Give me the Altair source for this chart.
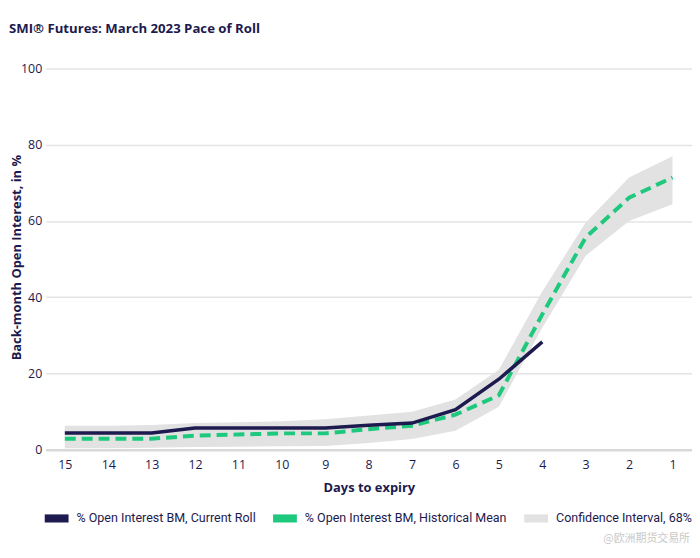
import altair as alt
import pandas as pd

# ---- data ----
days = [15, 14, 13, 12, 11, 10, 9, 8, 7, 6, 5, 4, 3, 2, 1]
current_roll = [4.4, 4.4, 4.4, 5.7, 5.7, 5.7, 5.7, 6.4, 7.0, 10.5, 18.5, 28.3]  # days 15..4
hist_mean = [2.9, 2.9, 2.9, 3.7, 4.0, 4.3, 4.3, 5.4, 6.3, 9.2, 14.3, 35.5, 55.7, 66.1, 71.4]
ci_upper = [6.3, 6.3, 6.5, 7.0, 7.2, 7.5, 8.0, 9.0, 10.0, 13.2, 21.0, 41.5, 59.6, 71.4, 77.0]
ci_lower = [0.4, 0.4, 0.5, 0.7, 0.8, 0.9, 1.0, 1.8, 2.8, 5.0, 11.3, 32.0, 50.9, 60.0, 64.4]
series_names = ["% Open Interest BM, Current Roll",
                "% Open Interest BM, Historical Mean",
                "Confidence Interval, 68%"]
series_colors = ["#1c1a4e", "#1ec97d", "#e2e2e2"]
y_ticks = [0, 20, 40, 60, 80, 100]

NAVY = "#1c1a4e"

cur_df = pd.DataFrame({"day": days[:len(current_roll)], "value": current_roll})
mean_df = pd.DataFrame({"day": days, "value": hist_mean})
band_df = pd.DataFrame({"day": days, "lo": ci_lower, "hi": ci_upper})
legend_df = pd.DataFrame({"series": series_names})
wm_df = pd.DataFrame({"t": ["@欧洲期货交易所"]})

x_scale = alt.Scale(domain=[15.44, 0.55], nice=False, zero=False)
y_scale = alt.Scale(domain=[0, 100], nice=False)

x_axis = alt.Axis(values=days, format="d", title="Days to expiry", grid=False,
                  ticks=False, domain=True, domainColor="#d8d8d8", domainWidth=2.5,
                  labelPadding=9, titlePadding=11, labelFontSize=12.5,
                  labelFont="Open Sans", labelColor=NAVY,
                  titleFont="Open Sans", titleFontSize=13, titleFontWeight="bold",
                  titleColor=NAVY)
y_axis = alt.Axis(values=y_ticks, title="Back-month Open Interest, in %",
                  grid=True, gridColor="#e4e4e4", gridWidth=1.5, ticks=False,
                  domain=False, labelPadding=4, labelFontSize=12.5,
                  labelFont="Open Sans", labelColor=NAVY,
                  titleFont="Open Sans", titleFontSize=13, titleFontWeight="bold",
                  titleColor=NAVY, titleAngle=-90, titleX=-29, titleY=190,
                  titleAlign="center", titleBaseline="middle")

band = alt.Chart(band_df).mark_area(color="#e2e2e2", opacity=1).encode(
    x=alt.X("day:Q", scale=x_scale, axis=x_axis),
    y=alt.Y("lo:Q", scale=y_scale, axis=y_axis),
    y2="hi:Q",
)

mean_line = alt.Chart(mean_df).mark_line(color="#1ec97d", strokeWidth=4,
                                         strokeDash=[11, 6]).encode(
    x=alt.X("day:Q", scale=x_scale),
    y=alt.Y("value:Q", scale=y_scale),
)

cur_line = alt.Chart(cur_df).mark_line(color=NAVY, strokeWidth=3.5).encode(
    x=alt.X("day:Q", scale=x_scale),
    y=alt.Y("value:Q", scale=y_scale),
)

legend_layer = alt.Chart(legend_df).mark_rect().encode(
    fill=alt.Fill("series:N",
                  scale=alt.Scale(domain=series_names, range=series_colors),
                  legend=alt.Legend(
                      title=None, orient="none", direction="horizontal",
                      legendX=-1, legendY=441, columns=3, columnPadding=17,
                      symbolType="M-1,-0.34H1V0.34H-1Z", symbolSize=576,
                      symbolStrokeWidth=0, labelOffset=8,
                      labelFont="Roboto", labelFontSize=12.6, labelColor=NAVY,
                      labelLimit=400, padding=0)),
).transform_filter("false")

watermark = alt.Chart(wm_df).mark_text(
    align="right", baseline="middle", font="Noto Sans CJK SC", fontSize=11,
    color="#c9c9c9").encode(
    x=alt.value(649), y=alt.value(474), text="t:N")

chart = alt.layer(band, mean_line, cur_line, legend_layer, watermark).properties(
    width=651, height=384,
    padding={"left": 38, "top": 59, "right": 0, "bottom": 100},
    autosize=alt.AutoSizeParams(type="none"),
    title=alt.TitleParams("SMI® Futures: March 2023 Pace of Roll", anchor="start",
                          frame="group", dx=-37, offset=27, font="Open Sans",
                          fontSize=13.3, fontWeight="bold", color=NAVY),
).configure_view(stroke=None)

chart.save("out.html", embed_options={"renderer": "svg", "actions": False})
